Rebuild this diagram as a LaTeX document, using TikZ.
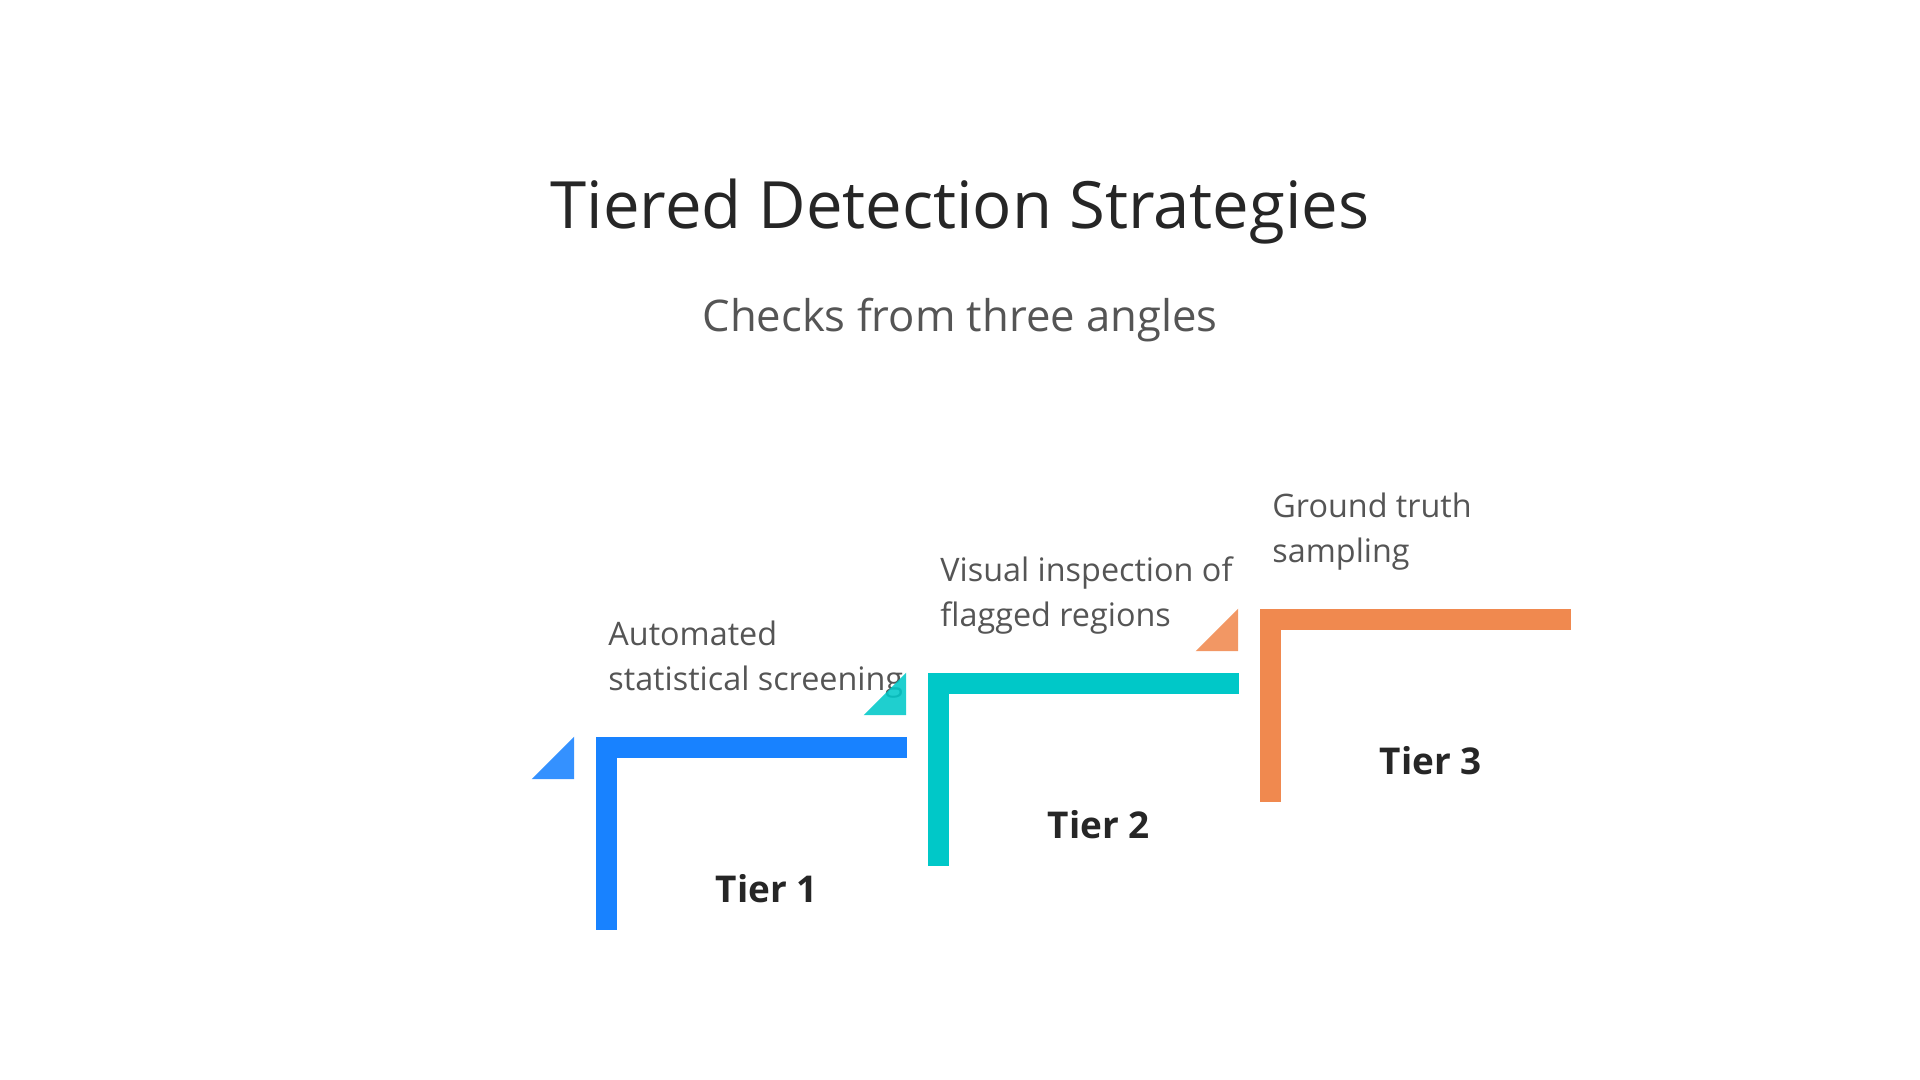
\documentclass[tikz,border=0pt]{standalone}
\usepackage{fontspec}
\setmainfont{Open Sans}
\usetikzlibrary{positioning}
\definecolor{tierblue}{HTML}{1882FF}
\definecolor{tierteal}{HTML}{00C8C8}
\definecolor{tierorange}{HTML}{F0894F}
\definecolor{titlegray}{HTML}{262626}
\definecolor{textgray}{HTML}{555555}
\tikzset{
  heading/.style={anchor=base, inner sep=0pt, text=titlegray, font=\fontsize{18.55}{22}\selectfont},
  subheading/.style={anchor=base, inner sep=0pt, text=textgray, font=\fontsize{12.4}{14}\selectfont},
  tierlabel/.style={anchor=base, inner sep=0pt, text=titlegray, font=\fontsize{10.5}{12}\selectfont\bfseries},
  desc/.style={anchor=base west, inner sep=0pt, align=left, text=textgray, font=\fontsize{9.2}{12.8}\selectfont}
}
\begin{document}
\begin{tikzpicture}[x=0.01cm, y=-0.01cm]
\useasboundingbox (0,0) rectangle (1920,1080);

% Title
\node[heading] (title) at (960,229) {Tiered Detection Strategies};
\node[subheading] (subtitle) at (960,332) {Checks from three angles};

% Tiers
\foreach \i/\x/\y/\col/\desc in {
    1/595.7/736.7/tierblue/{Automated\\statistical screening},
    2/927.7/672.7/tierteal/{Visual inspection of\\flagged regions},
    3/1259.7/608.7/tierorange/{Ground truth\\sampling}} {
  \fill[\col] (\x,\y) rectangle ++(311,21.5);
  \fill[\col] (\x,\y) rectangle ++(21.5,193);
  \fill[\col, fill opacity=0.88] (\x-64,\y+42.5) -- (\x-21.5,\y+42.5) -- (\x-21.5,\y) -- cycle;
  \node[tierlabel] (tier\i) at (\x+171,\y+166) {Tier \i};
  \node[desc] (desc\i) at (\x+12,\y-46) {\desc};
}
\end{tikzpicture}
\end{document}
